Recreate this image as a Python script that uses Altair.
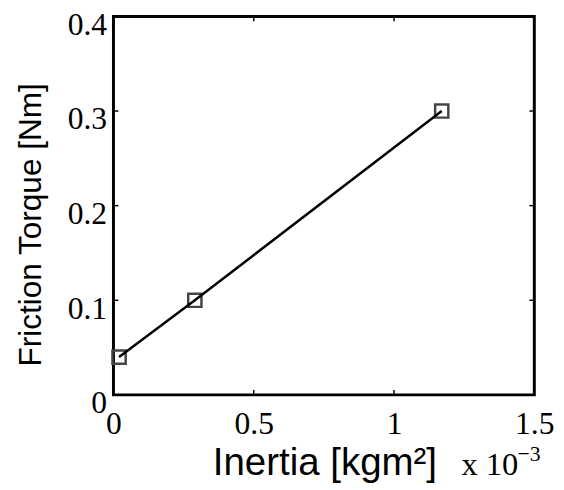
import altair as alt
import pandas as pd

# data (x in units of 1e-3 kgm^2)
inertia = [0.02, 0.29, 1.17]
torque = [0.04, 0.10, 0.30]
x_ticks = [0, 0.5, 1, 1.5]
y_ticks = [0, 0.1, 0.2, 0.3, 0.4]
x_title = "Inertia [kgm\u00b2]"
y_title = "Friction Torque [Nm]"
mult_text = ["x 10"]
exp_text = ["\u22123"]

W, H = 427, 384
df = pd.DataFrame({"x": inertia, "y": torque})
xt = pd.DataFrame({"v": x_ticks})
yt = pd.DataFrame({"v": y_ticks})

xscale = alt.Scale(domain=[0, 1.5], nice=False, zero=False)
yscale = alt.Scale(domain=[0, 0.4], nice=False, zero=False)

SANS = "Liberation Sans"
SERIF = "Liberation Serif"

xaxis = alt.Axis(values=x_ticks, format="~g", grid=False, domain=False, ticks=False,
                 labelFont=SERIF, labelFontSize=32, labelColor="black",
                 labelBaseline="alphabetic", labelPadding=39, labelFlush=False,
                 title=x_title, titleFont=SANS, titleFontSize=39,
                 titleFontWeight="normal", titleColor="black", titleX=214, titleY=81,
                 titleAlign="center", titleBaseline="alphabetic")
yaxis = alt.Axis(values=y_ticks, format="~g", grid=False, domain=False, ticks=False,
                 labelFont=SERIF, labelFontSize=32, labelColor="black",
                 labelBaseline="middle", labelPadding=7, labelOffset=8, labelFlush=False,
                 title=y_title, titleFont=SANS, titleFontSize=32,
                 titleFontWeight="normal", titleColor="black", titleAngle=270,
                 titleX=-74, titleY=211, titleAlign="center", titleBaseline="alphabetic")

points = alt.Chart(df).mark_point(shape="square", size=180, filled=False,
                                  stroke="#444444", strokeWidth=2.5, opacity=1).encode(
    x=alt.X("x:Q", scale=xscale, axis=xaxis),
    y=alt.Y("y:Q", scale=yscale, axis=yaxis),
)
line = alt.Chart(df).mark_line(color="black", strokeWidth=2.5).encode(
    x=alt.X("x:Q", scale=xscale), y=alt.Y("y:Q", scale=yscale))

tl = 5
bt = alt.Chart(xt).mark_rule(color="black", strokeWidth=1.5).encode(
    x=alt.X("v:Q", scale=xscale), y=alt.value(H), y2=alt.value(H - tl))
tt = alt.Chart(xt).mark_rule(color="black", strokeWidth=1.5).encode(
    x=alt.X("v:Q", scale=xscale), y=alt.value(0), y2=alt.value(tl))
lt = alt.Chart(yt).mark_rule(color="black", strokeWidth=1.5).encode(
    y=alt.Y("v:Q", scale=yscale), x=alt.value(0), x2=alt.value(tl))
rt = alt.Chart(yt).mark_rule(color="black", strokeWidth=1.5).encode(
    y=alt.Y("v:Q", scale=yscale), x=alt.value(W), x2=alt.value(W - tl))

mult = alt.Chart(pd.DataFrame({"t": mult_text})).mark_text(
    font=SERIF, fontSize=33, color="black", align="left",
    baseline="alphabetic").encode(text="t:N", x=alt.value(353), y=alt.value(465))
expo = alt.Chart(pd.DataFrame({"t": exp_text})).mark_text(
    font=SERIF, fontSize=22, color="black", align="left",
    baseline="alphabetic").encode(text="t:N", x=alt.value(410), y=alt.value(451))

chart = alt.layer(points, line, bt, tt, lt, rt, mult, expo).properties(
    width=W, height=H,
    autosize=alt.AutoSizeParams(type="none"),
    padding={"left": 107, "top": 5, "right": 22, "bottom": 95},
).configure_view(stroke="black", strokeWidth=3)

chart.save("out.html", embed_options={"renderer": "svg", "actions": False})
